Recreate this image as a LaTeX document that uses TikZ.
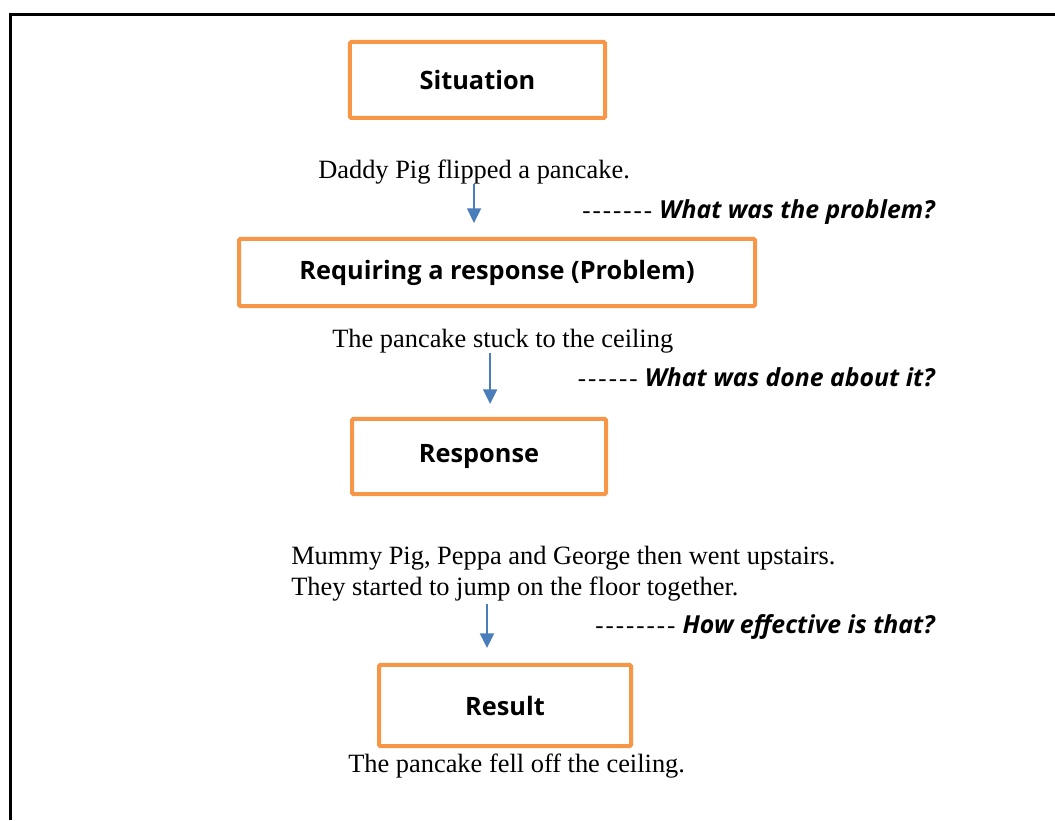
\documentclass[tikz,border=0pt]{standalone}
\usepackage{fontspec}
\setmainfont{Liberation Serif}
\newfontfamily\boxfont{Open Sans}
\usetikzlibrary{arrows.meta}
\definecolor{stageorange}{HTML}{F79646}
\definecolor{flowblue}{HTML}{4A7EBB}
\newcommand\dashrun[1]{\foreach \i in {1,...,#1}{\makebox[7.7pt]{\itshape -}}}

\begin{document}
\begin{tikzpicture}[x=0.75pt,y=-0.75pt,
  stage/.style={draw=stageorange,line width=3pt,rounded corners=1pt,fill=white,
    font=\boxfont\bfseries\fontsize{19}{23}\selectfont},
  story/.style={anchor=base west,inner sep=0pt,font=\fontsize{19.8}{23.3}\selectfont},
  ask/.style={anchor=base east,inner sep=0pt,font=\fontsize{18.6}{22}\selectfont},
  flow/.style={draw=flowblue,line width=1.5pt,-{Triangle[width=10.5pt,length=11pt]}}]
\useasboundingbox (0,0) rectangle (1055,820);
% outer frame
\draw[line width=2.25pt] (10.5,820) -- (10.5,15) -- (1055,15);
% the four stages
\node[stage,minimum width=191.3pt,minimum height=57pt] (sit) at (477.5,80) {Situation};
\node[stage,minimum width=387pt,minimum height=50.3pt] (prob) at (497,272.5) {Requiring a response (Problem)};
\node[stage,minimum width=190.5pt,minimum height=56.3pt] (resp) at (479,456.5) {Response};
\node[stage,minimum width=189pt,minimum height=60.8pt] (res) at (505,705.5) {Result};
% story lines
\node[story] (t1) at (318,178) {Daddy Pig flipped a pancake.};
\node[story] (t2) at (332,347) {The pancake stuck to the ceiling};
\node[story,anchor=north west,align=left] (t3) at (291,546) {Mummy Pig, Peppa and George then went upstairs.\\They started to jump on the floor together.};
\node[story] (t4) at (348,772) {The pancake fell off the ceiling.};
% questions
\node[ask] (q1) at (935,218) {\dashrun{7}\ {\boxfont\bfseries\itshape What was the problem?}};
\node[ask] (q2) at (935,386) {\dashrun{6}\ {\boxfont\bfseries\itshape What was done about it?}};
\node[ask] (q3) at (935,633) {\dashrun{8}\ {\boxfont\bfseries\itshape How effective is that?}};
% arrows
\draw[flow,shorten >=10.5pt] (t1.south) -- (t1.south |- prob.north);
\draw[flow,shorten >=9.75pt] ([xshift=-9.4pt]t2.south) -- ([xshift=-9.4pt]t2.south |- resp.north);
\draw[flow,shorten >=11.25pt] ([xshift=147pt,yshift=-2pt]t3.south west) -- ([xshift=147pt]t3.south west |- res.north);
\end{tikzpicture}
\end{document}
